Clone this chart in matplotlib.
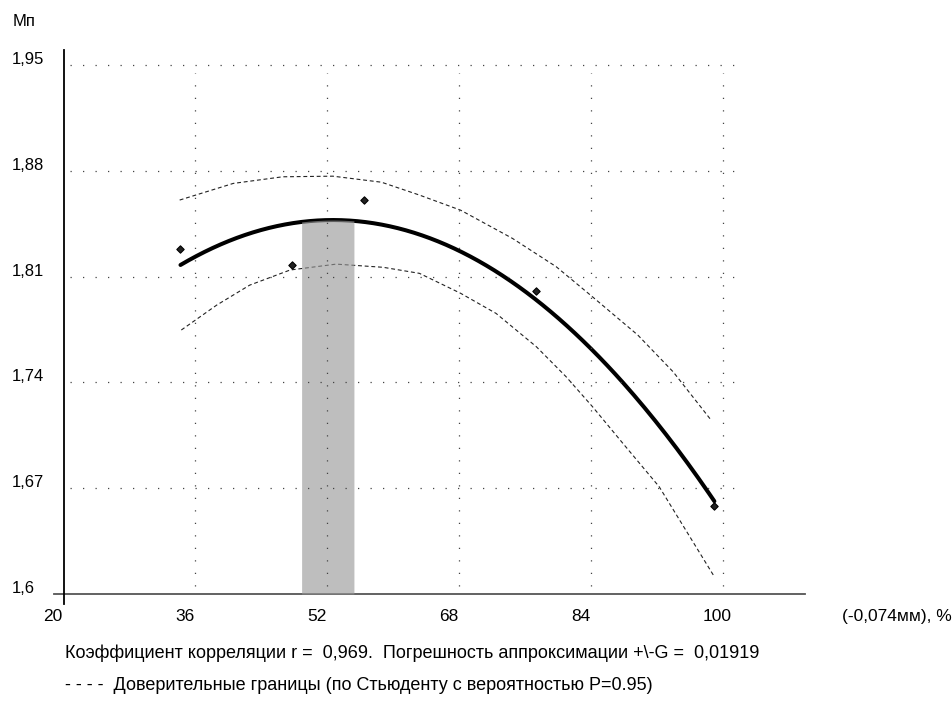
import matplotlib
matplotlib.use("Agg")
import matplotlib.pyplot as plt
import matplotlib.transforms as mtransforms
from matplotlib.lines import Line2D
import numpy as np

plt.rcParams['font.family'] = ['Liberation Sans', 'DejaVu Sans']

# measured points
pts_x = [34.2, 47.7, 56.5, 77.3, 99.0]
pts_y = [1.828, 1.818, 1.8607, 1.8005, 1.6584]

# confidence bounds
up_x = [34.1, 40.6, 46.6, 52.7, 58.6, 63.2, 68.2, 74.5, 79.8, 84.2, 89.7, 94.0, 98.6]
up_y = [1.8607, 1.8717, 1.8761, 1.8765, 1.8725, 1.8640, 1.8540, 1.8353, 1.8166, 1.7967, 1.7714, 1.7470, 1.7151]
lo_x = [34.3, 38.6, 42.6, 47.5, 53.1, 58.8, 63.2, 68.2, 72.5, 77.4, 81.0, 84.2, 88.0, 92.3, 99.0]
lo_y = [1.7747, 1.7912, 1.8044, 1.8144, 1.8183, 1.8162, 1.8122, 1.7990, 1.7857, 1.7636, 1.7438, 1.7240, 1.6990, 1.6710, 1.6114]

# optimum zone
band_x = [48.9, 55.25]

xticks = [20, 36, 52, 68, 84, 100]
yticks = [1.6, 1.67, 1.74, 1.81, 1.88, 1.95]
ylabels = ['1,6', '1,67', '1,74', '1,81', '1,88', '1,95']

# 2nd order approximation of the points
coef = np.polyfit(pts_x, pts_y, 2)
xs = np.linspace(min(pts_x), max(pts_x), 200)
xb = np.linspace(band_x[0], band_x[1], 30)

W, H = 952, 704
fig = plt.figure(figsize=(W / 100, H / 100), dpi=100)
ax = fig.add_axes([63.5 / W, (H - 594) / H, 741.5 / W, 544 / H])
ax.set_xlim(20, 110)
ax.set_ylim(1.6, 1.96)
for s in ax.spines.values():
    s.set_visible(False)

# grid
gkw = dict(color='#444444', lw=0.9, linestyle=(0, (1, 9)), zorder=4)
ax.hlines(yticks[1:], 20.8, 101.5, **gkw)
ax.vlines(xticks[1:], 1.605, 1.945, **gkw)

ax.plot(xs, np.polyval(coef, xs), color='black', lw=2.9, solid_capstyle='round', zorder=2)
ax.fill_between(xb, 1.6, np.polyval(coef, xb), color='#999999', alpha=0.63, lw=0, zorder=3)
ax.plot(up_x, up_y, color='#222222', lw=0.8, dashes=(3.5, 2.5), zorder=2)
ax.plot(lo_x, lo_y, color='#222222', lw=0.8, dashes=(3.5, 2.5), zorder=2)
ax.scatter(pts_x, pts_y, marker='D', s=14, c='#222222', edgecolors='black', lw=0.8, zorder=5)

# axes lines (crossing at the origin)
dx = -10 / 741.5
dy = -10 / 544
ax.add_line(Line2D([dx, 1], [0, 0], transform=ax.transAxes, color='#555555', lw=1.3, clip_on=False))
ax.add_line(Line2D([0, 0], [dy, 1], transform=ax.transAxes, color='black', lw=1.3, clip_on=False))

# tick labels
ax.set_xticks(xticks)
ax.set_xticklabels([str(v) for v in xticks], fontsize=12.5, ha='left')
ax.set_yticks(yticks)
ax.set_yticklabels(ylabels, fontsize=12, ha='left')
ax.tick_params(length=0)
ax.tick_params(axis='x', pad=11)
ax.tick_params(axis='y', pad=37)
for lab in ax.get_xticklabels():
    lab.set_transform(lab.get_transform() + mtransforms.ScaledTranslation(-0.20, 0, fig.dpi_scale_trans))
for lab in ax.get_yticklabels():
    lab.set_transform(lab.get_transform() + mtransforms.ScaledTranslation(0, 0.07, fig.dpi_scale_trans))

fig.text(13 / W, 1 - 22 / H, 'Мп', fontsize=12, va='center', ha='left')
fig.text(842 / W, 1 - 617 / H, '(-0,074мм), %', fontsize=12.5, va='center', ha='left')
fig.text(65 / W, 1 - 653 / H,
         'Коэффициент корреляции r =  0,969.  Погрешность аппроксимации +\\-G =  0,01919',
         fontsize=13, va='center', ha='left')
fig.text(65 / W, 1 - 686 / H,
         '- - - -  Доверительные границы (по Стьюденту с вероятностью P=0.95)',
         fontsize=13, va='center', ha='left')

fig.savefig('out.png', dpi=100)
